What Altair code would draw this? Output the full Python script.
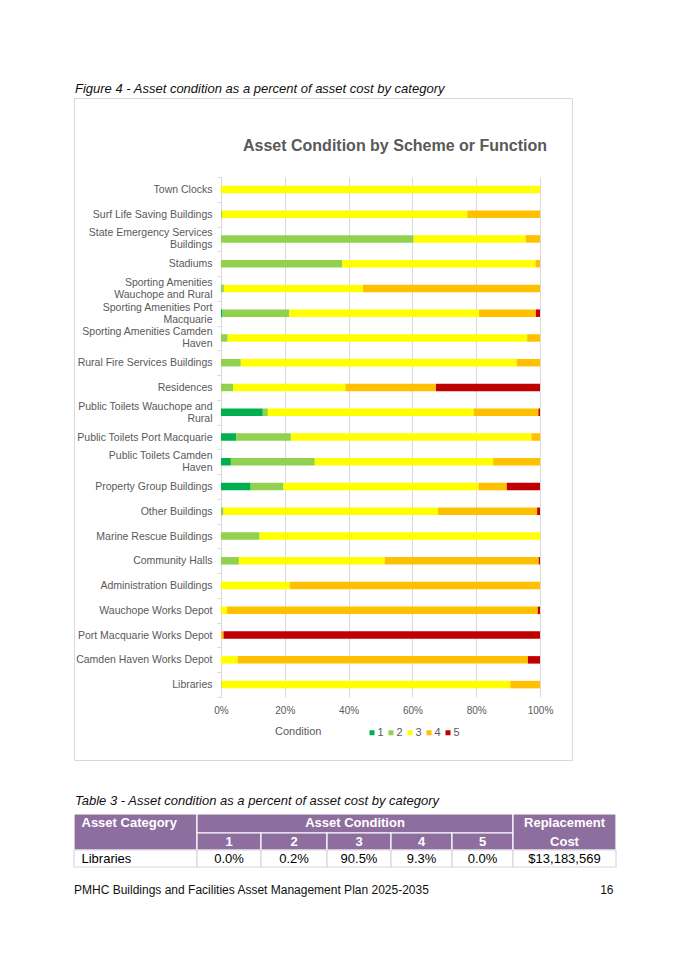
import altair as alt
import pandas as pd

# ---------------- data ----------------
categories = [
    "Town Clocks",
    "Surf Life Saving Buildings",
    "State Emergency Services Buildings",
    "Stadiums",
    "Sporting Amenities Wauchope and Rural",
    "Sporting Amenities Port Macquarie",
    "Sporting Amenities Camden Haven",
    "Rural Fire Services Buildings",
    "Residences",
    "Public Toilets Wauchope and Rural",
    "Public Toilets Port Macquarie",
    "Public Toilets Camden Haven",
    "Property Group Buildings",
    "Other Buildings",
    "Marine Rescue Buildings",
    "Community Halls",
    "Administration Buildings",
    "Wauchope Works Depot",
    "Port Macquarie Works Depot",
    "Camden Haven Works Depot",
    "Libraries",
]
cond1 = [0, 0, 0, 0, 0, 0.5, 0, 0, 0, 13.1, 4.8, 3.1, 9.3, 0, 0, 0, 0, 0, 0, 0, 0]
cond2 = [0, 0.3, 60.4, 38.0, 0.9, 20.9, 2.1, 6.2, 3.8, 1.6, 17.1, 26.3, 10.3, 0.8, 12.1, 5.6, 0, 0, 0, 0, 0.2]
cond3 = [100, 76.9, 35.1, 60.6, 43.6, 59.5, 93.9, 86.5, 35.2, 64.5, 75.4, 55.9, 61.1, 67.2, 87.9, 45.7, 21.6, 1.9, 0, 5.2, 90.5]
cond4 = [0, 22.8, 4.5, 1.4, 55.5, 17.8, 4.0, 7.3, 28.4, 20.3, 2.7, 14.7, 8.9, 31.1, 0, 48.3, 78.4, 97.4, 0.8, 91.0, 9.3]
cond5 = [0, 0, 0, 0, 0, 1.3, 0, 0, 32.6, 0.5, 0, 0, 10.4, 0.9, 0, 0.4, 0, 0.7, 99.2, 3.8, 0]
cond_names = ["1", "2", "3", "4", "5"]
cond_colors = ["#00B050", "#92D050", "#FFFF00", "#FFC000", "#C00000"]
x_ticks = [0, 20, 40, 60, 80, 100]

wrapped_labels = {
    "State Emergency Services Buildings": ["State Emergency Services", "Buildings"],
    "Sporting Amenities Wauchope and Rural": ["Sporting Amenities ", "Wauchope and Rural"],
    "Sporting Amenities Port Macquarie": ["Sporting Amenities Port", "Macquarie"],
    "Sporting Amenities Camden Haven": ["Sporting Amenities Camden", "Haven"],
    "Public Toilets Wauchope and Rural": ["Public Toilets Wauchope and", "Rural"],
    "Public Toilets Camden Haven": ["Public Toilets Camden", "Haven"],
}

chart_title = "Asset Condition by Scheme or Function"
figure_caption = "Figure 4 - Asset condition as a percent of asset cost by category"
table_caption = "Table 3 - Asset condition as a percent of asset cost by category"
footer_left = "PMHC Buildings and Facilities Asset Management Plan 2025-2035"
footer_right = "16"

table_category = "Libraries"
table_values = [0.0, 0.2, 90.5, 9.3, 0.0]
table_cost = 13183569

FONT = "Liberation Sans"
GRAY = "#595959"
LINE = "#D9D9D9"
PURPLE = "#8E6E9F"

# ---------------- layout (plot origin at page 221,177) ----------------
OX, OY = 221, 177
W, H = 319, 520

rows = []
vals = [cond1, cond2, cond3, cond4, cond5]
for i, cat in enumerate(categories):
    for k, name in enumerate(cond_names):
        rows.append({"category": cat, "cond": name, "pct": vals[k][i]})
df = pd.DataFrame(rows)

label_expr = ""
for key, lines in wrapped_labels.items():
    arr = "[" + ",".join("'" + l + "'" for l in lines) + "]"
    label_expr += f"datum.value === '{key}' ? {arr} : "
label_expr += "datum.value"

wrapped_test = " || ".join(f"datum.value === '{k}'" for k in wrapped_labels)

bars = alt.Chart(df).mark_bar(size=7.5).encode(
    y=alt.Y(
        "category:N",
        sort=categories,
        title=None,
        scale=alt.Scale(paddingInner=0, paddingOuter=0),
        axis=alt.Axis(
            domainColor=LINE, tickColor=LINE, tickSize=4, tickBand="extent",
            labelColor=GRAY, labelFont=FONT, labelFontSize=10.5, labelPadding=5,
            labelLineHeight=12, labelExpr=label_expr, labelLimit=0, grid=False,
            labelOffset={"condition": {"test": wrapped_test, "value": -6}, "value": 0},
        ),
    ),
    x=alt.X(
        "pct:Q",
        stack="zero",
        title=None,
        scale=alt.Scale(domain=[0, 100], nice=False),
        axis=alt.Axis(
            values=x_ticks, labelExpr="datum.value + '%'", grid=True, gridColor=LINE,
            domain=False, ticks=False, labelColor=GRAY, labelFont=FONT,
            labelFontSize=10, labelPadding=8, labelFlush=False,
        ),
    ),
    color=alt.Color(
        "cond:N",
        scale=alt.Scale(domain=cond_names, range=cond_colors),
        legend=alt.Legend(
            title="Condition", orient="none", legendX=54, legendY=550,
            direction="horizontal", titleOrient="left", titlePadding=44.5,
            titleColor=GRAY, titleFont=FONT, titleFontSize=11, titleFontWeight="normal",
            titleBaseline="middle",
            labelColor=GRAY, labelFont=FONT, labelFontSize=11, labelOffset=0,
            symbolType="square", symbolSize=25, symbolStrokeWidth=0, columnPadding=1,
        ),
    ),
    order=alt.Order("cond:N", sort="ascending"),
)

def text_layer(txt, x, y, **kw):
    return alt.Chart(pd.DataFrame({"t": [txt]})).mark_text(font=FONT, **kw).encode(
        x=alt.value(x), y=alt.value(y), text="t:N"
    )

border = alt.Chart(pd.DataFrame({"a": [0]})).mark_rect(
    fillOpacity=0, stroke=LINE, strokeWidth=1
).encode(
    x=alt.value(74.5 - OX), x2=alt.value(572.5 - OX),
    y=alt.value(98.5 - OY), y2=alt.value(760.5 - OY),
)

fig_cap = text_layer(figure_caption, 75 - OX, 93 - OY, align="left", baseline="alphabetic",
                     fontStyle="italic", fontSize=13, color="#111111")
title = text_layer(chart_title, 395 - OX, 151 - OY, align="center", baseline="alphabetic",
                   fontWeight="bold", fontSize=16, color=GRAY)
tab_cap = text_layer(table_caption, 75 - OX, 805 - OY, align="left", baseline="alphabetic",
                     fontStyle="italic", fontSize=13, color="#111111")
foot_l = text_layer(footer_left, 74 - OX, 893.5 - OY, align="left", baseline="alphabetic",
                    fontSize=12, color="#111111")
foot_r = text_layer(footer_right, 613.5 - OX, 893.5 - OY, align="right", baseline="alphabetic",
                    fontSize=12, color="#111111")

# ---------------- table ----------------
col_edges = [74, 197, 261, 327, 391, 452, 513, 616]
row_edges = [814, 833, 850, 867]

cells = []
cells.append({"x0": col_edges[0], "x1": col_edges[1], "y0": row_edges[0], "y1": row_edges[2], "kind": "head"})
cells.append({"x0": col_edges[1], "x1": col_edges[6], "y0": row_edges[0], "y1": row_edges[1], "kind": "head"})
for c in range(1, 6):
    cells.append({"x0": col_edges[c], "x1": col_edges[c + 1], "y0": row_edges[1], "y1": row_edges[2], "kind": "head"})
cells.append({"x0": col_edges[6], "x1": col_edges[7], "y0": row_edges[0], "y1": row_edges[2], "kind": "head"})
for c in range(7):
    cells.append({"x0": col_edges[c], "x1": col_edges[c + 1], "y0": row_edges[2], "y1": row_edges[3], "kind": "body"})
cells_df = pd.DataFrame(cells)
for k in ["x0", "x1"]:
    cells_df[k] = cells_df[k] - OX
for k in ["y0", "y1"]:
    cells_df[k] = cells_df[k] - OY

table_rects = alt.Chart(cells_df).mark_rect(strokeWidth=1.2).encode(
    x=alt.X("x0:Q", scale=None, axis=None),
    x2="x1:Q",
    y=alt.Y("y0:Q", scale=None, axis=None),
    y2="y1:Q",
    fill=alt.Fill("kind:N", scale=alt.Scale(domain=["head", "body"], range=[PURPLE, "#FFFFFF"]), legend=None),
    stroke=alt.Stroke("kind:N", scale=alt.Scale(domain=["head", "body"], range=["#FFFFFF", "#DCD3E4"]), legend=None),
)

head_txt = pd.DataFrame([
    {"t": "Asset Category", "x": 81.5, "y": 823, "al": "left"},
    {"t": "Asset Condition", "x": (col_edges[1] + col_edges[6]) / 2, "y": 823, "al": "center"},
    {"t": "Replacement", "x": (col_edges[6] + col_edges[7]) / 2, "y": 823, "al": "center"},
    {"t": "Cost", "x": (col_edges[6] + col_edges[7]) / 2, "y": 841.5, "al": "center"},
] + [
    {"t": cond_names[c], "x": (col_edges[c + 1] + col_edges[c + 2]) / 2, "y": 841.5, "al": "center"}
    for c in range(5)
])
head_txt["x"] = head_txt["x"] - OX
head_txt["y"] = head_txt["y"] - OY
head_left = alt.Chart(head_txt[head_txt.al == "left"]).mark_text(
    font=FONT, fontSize=13, fontWeight="bold", color="white", align="left", baseline="middle"
).encode(x=alt.X("x:Q", scale=None, axis=None), y=alt.Y("y:Q", scale=None, axis=None), text="t:N")
head_center = alt.Chart(head_txt[head_txt.al == "center"]).mark_text(
    font=FONT, fontSize=13, fontWeight="bold", color="white", align="center", baseline="middle"
).encode(x=alt.X("x:Q", scale=None, axis=None), y=alt.Y("y:Q", scale=None, axis=None), text="t:N")

body_df = pd.DataFrame({
    "frac": [v / 100 for v in table_values],
    "x": [(col_edges[c + 1] + col_edges[c + 2]) / 2 - OX for c in range(5)],
    "y": [858.5 - OY] * 5,
})
body_vals = alt.Chart(body_df).mark_text(
    font=FONT, fontSize=13, color="black", align="center", baseline="middle"
).encode(x=alt.X("x:Q", scale=None, axis=None), y=alt.Y("y:Q", scale=None, axis=None),
         text=alt.Text("frac:Q", format=".1%"))
body_cat = text_layer(table_category, 81.5 - OX, 858.5 - OY, align="left", baseline="middle",
                      fontSize=13, color="black")
cost_df = pd.DataFrame({"c": [table_cost], "x": [(col_edges[6] + col_edges[7]) / 2 - OX], "y": [858.5 - OY]})
body_cost = alt.Chart(cost_df).mark_text(
    font=FONT, fontSize=13, color="black", align="center", baseline="middle"
).encode(x=alt.X("x:Q", scale=None, axis=None), y=alt.Y("y:Q", scale=None, axis=None),
         text=alt.Text("c:Q", format="$,d"))

chart = alt.layer(
    border, bars, fig_cap, title, tab_cap,
    table_rects, head_left, head_center, body_vals, body_cat, body_cost,
    foot_l, foot_r,
).resolve_scale(fill="independent", stroke="independent").properties(
    width=W, height=H,
    autosize=alt.AutoSizeParams(type="none"),
    padding={"left": OX - 8, "top": OY - 8, "right": 120, "bottom": 230},
    background="white",
).configure_view(stroke=None)

chart.save("out.html", embed_options={"renderer": "svg", "actions": False})
